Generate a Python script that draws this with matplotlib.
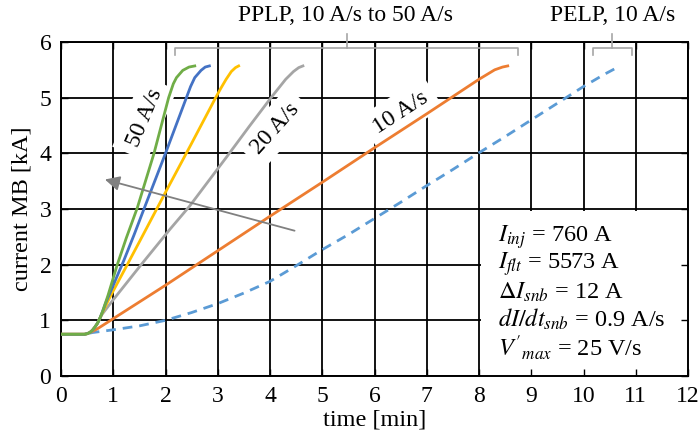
import matplotlib
matplotlib.use('Agg')
import matplotlib.pyplot as plt
from matplotlib.patches import Rectangle

plt.rcParams['font.family'] = ['Liberation Serif', 'DejaVu Serif']
plt.rcParams['mathtext.fontset'] = 'stix'

# 50 A/s (PPLP)
t_50 = [0, 0.45, 0.5, 0.55, 0.6, 0.65, 0.7, 0.75, 0.8, 0.9, 1.0, 1.07, 1.25, 1.46, 1.78, 2.06, 2.15, 2.21, 2.33, 2.45, 2.56]
i_50 = [0.75, 0.75, 0.76, 0.78, 0.82, 0.88, 0.95, 1.05, 1.17, 1.45, 1.76, 1.98, 2.48, 3.02, 4.0, 5.0, 5.25, 5.36, 5.49, 5.55, 5.57]

# 40 A/s
t_40 = [0, 0.45, 0.5, 0.55, 0.6, 0.65, 0.7, 0.75, 0.8, 0.85, 0.9, 0.95, 1.0, 1.2, 1.4, 1.6, 2.0, 2.4, 2.48, 2.56, 2.68, 2.76, 2.84]
i_40 = [0.75, 0.75, 0.76, 0.78, 0.82, 0.88, 0.95, 1.05, 1.17, 1.3, 1.41, 1.52, 1.63, 2.07, 2.54, 3.03, 4.0, 5.0, 5.2, 5.36, 5.49, 5.55, 5.57]

# 30 A/s
t_30 = [0, 0.45, 0.5, 0.55, 0.6, 0.65, 0.7, 0.75, 0.8, 0.9, 1.0, 1.2, 1.5, 2.0, 2.5, 2.96, 3.06, 3.16, 3.26, 3.34, 3.4]
i_30 = [0.75, 0.75, 0.76, 0.78, 0.82, 0.88, 0.95, 1.05, 1.15, 1.35, 1.53, 1.88, 2.41, 3.3, 4.18, 5.0, 5.17, 5.33, 5.47, 5.54, 5.57]

# 20 A/s
t_20 = [0, 0.45, 0.5, 0.55, 0.6, 0.65, 0.7, 0.78, 1.0, 1.5, 2.08, 2.46, 3.19, 3.6, 4.02, 4.3, 4.45, 4.55, 4.63]
i_20 = [0.75, 0.75, 0.76, 0.78, 0.82, 0.88, 0.95, 1.1, 1.37, 1.96, 2.63, 3.05, 3.96, 4.48, 5.0, 5.33, 5.47, 5.54, 5.57]

# 10 A/s
t_10 = [0, 0.45, 0.5, 0.55, 0.6, 0.7, 0.8, 1.0, 2.0, 3.0, 4.0, 5.0, 6.0, 7.0, 8.0, 8.3, 8.45, 8.55]
i_10 = [0.75, 0.75, 0.76, 0.78, 0.8, 0.85, 0.91, 1.03, 1.63, 2.25, 2.87, 3.48, 4.1, 4.71, 5.33, 5.5, 5.55, 5.57]

# PELP 10 A/s
t_pelp = [0.55, 0.6, 1.0, 1.5, 2.0, 2.5, 3.0, 3.5, 4.0, 4.5, 5.0, 5.5, 6.0, 6.5, 7.0, 7.5, 8.0, 8.5, 9.0, 9.5, 10.0, 10.4, 10.7]
i_pelp = [0.77, 0.78, 0.83, 0.9, 1.0, 1.14, 1.3, 1.49, 1.7, 1.98, 2.27, 2.54, 2.83, 3.12, 3.42, 3.71, 4.01, 4.3, 4.6, 4.9, 5.2, 5.42, 5.57]

x_ticks = list(range(0, 13))
y_ticks = list(range(0, 7))

params = [r'$I_{inj}$ = 760 A',
          r'$I_{flt}$ = 5573 A',
          r'$\Delta I_{snb}$ = 12 A',
          r'$dI/dt_{snb}$ = 0.9 A/s',
          r"$V'_{max}$ = 25 V/s"]

fig = plt.figure(figsize=(7, 4.36), dpi=100)
ax = fig.add_axes([61 / 700, 60 / 436, 627 / 700, 334 / 436])
ax.set_xlim(0, 12)
ax.set_ylim(0, 6)
ax.set_axisbelow(False)

# 网格线（手动画，方便被白框遮住）
for v in x_ticks:
    ax.axvline(v, color='black', lw=1.3, zorder=1)
for h in y_ticks:
    ax.axhline(h, color='black', lw=1.3, zorder=1)

ax.add_patch(Rectangle((8.04, 0), 3.96, 2.97, facecolor='white', edgecolor='none', zorder=1.5))

ax.plot(t_pelp, i_pelp, color='#5B9BD5', lw=2.0, ls=(0, (3.5, 2.5)), zorder=3)
ax.plot(t_10, i_10, color='#ED7D31', lw=2.0, zorder=3)
ax.plot(t_20, i_20, color='#A5A5A5', lw=2.0, zorder=3)
ax.plot(t_30, i_30, color='#FFC000', lw=2.0, zorder=3)
ax.plot(t_40, i_40, color='#4472C4', lw=2.0, zorder=3)
ax.plot(t_50, i_50, color='#70AD47', lw=2.0, zorder=3)

box = dict(facecolor='white', edgecolor='none', pad=6)
ax.text(1.6, 4.63, '50 A/s', rotation=67, fontsize=17, ha='center', va='center', bbox=box, zorder=2)
ax.text(4.1, 4.45, '20 A/s', rotation=48, fontsize=17, ha='center', va='center', bbox=box, zorder=2)
ax.text(6.5, 4.73, '10 A/s', rotation=33, fontsize=17, ha='center', va='center', bbox=box, zorder=2)

ax.annotate('', xy=(0.84, 3.53), xytext=(4.47, 2.61),
            arrowprops=dict(arrowstyle='-|>', color='#808080', lw=1.3, mutation_scale=22,
                            shrinkA=0, shrinkB=0), zorder=4)

# 括号
brace_col = '#A6A6A6'
for x0, x1 in [(2.18, 8.75), (10.18, 10.93)]:
    xm = (x0 + x1) / 2
    ax.plot([x0, x0, x1, x1], [5.76, 5.9, 5.9, 5.76], color=brace_col, lw=1.2, clip_on=False, zorder=4)
    ax.plot([xm, xm], [5.9, 6.15], color=brace_col, lw=1.2, clip_on=False, zorder=4)
ax.text(5.45, 6.48, 'PPLP, 10 A/s to 50 A/s', fontsize=17, ha='center', va='center')
ax.text(10.55, 6.48, 'PELP, 10 A/s', fontsize=17, ha='center', va='center')

for k, s in enumerate(params):
    ax.text(8.36, 2.5 - k * 0.495, s, fontsize=17.5, ha='left', va='center', zorder=2)

ax.set_xticks(x_ticks)
ax.set_yticks(y_ticks)
ax.tick_params(direction='in', length=5, width=1, top=True, right=True, labelsize=17, pad=7)
for sp in ax.spines.values():
    sp.set_linewidth(1.4)
ax.set_xlabel('time [min]', fontsize=17.5, labelpad=2)
ax.set_ylabel('current MB [kA]', fontsize=17.5, labelpad=5)

fig.savefig('out.png', dpi=100)
